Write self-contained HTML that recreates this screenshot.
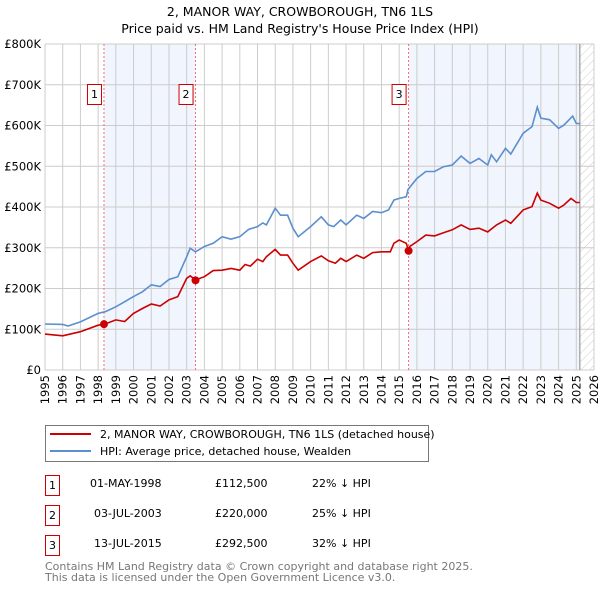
<!DOCTYPE html>
<html><head><meta charset="utf-8"><style>
body{margin:0;background:#fff;font-family:"Liberation Sans","DejaVu Sans",sans-serif;}
svg text{font-family:"DejaVu Sans","Liberation Sans",sans-serif;}
</style></head><body>
<svg id="c" width="600" height="590" xmlns="http://www.w3.org/2000/svg">
<defs><pattern id="hatch" width="6" height="6" patternUnits="userSpaceOnUse" patternTransform="rotate(45)"><line x1="0" y1="0" x2="0" y2="6" stroke="#ccc" stroke-width="1"/></pattern></defs>
<text x="300" y="16" text-anchor="middle" font-size="12.5" fill="#000">2, MANOR WAY, CROWBOROUGH, TN6 1LS</text>
<text x="300" y="33" text-anchor="middle" font-size="12.5" fill="#000">Price paid vs. HM Land Registry's House Price Index (HPI)</text>
<g id="plot"></g>
<g>
<rect x="45.5" y="425.5" width="383" height="36" fill="#fff" stroke="#777"/>
<line x1="50" y1="434" x2="91" y2="434" stroke="#cc0000" stroke-width="2"/>
<text x="100" y="438" font-size="11">2, MANOR WAY, CROWBOROUGH, TN6 1LS (detached house)</text>
<line x1="50" y1="451" x2="91" y2="451" stroke="#5b8fd0" stroke-width="2"/>
<text x="100" y="455" font-size="11">HPI: Average price, detached house, Wealden</text>
</g>
<g font-size="11">
<rect x="45.5" y="475.5" width="14" height="20" fill="#fff" stroke="#cc0000"/><text x="52.5" y="489" text-anchor="middle">1</text>
<text x="90" y="487">01-MAY-1998</text><text x="215" y="487">£112,500</text><text x="312" y="487">22% ↓ HPI</text>
<rect x="45.5" y="505.5" width="14" height="20" fill="#fff" stroke="#cc0000"/><text x="52.5" y="519" text-anchor="middle">2</text>
<text x="94" y="517">03-JUL-2003</text><text x="215" y="517">£220,000</text><text x="312" y="517">25% ↓ HPI</text>
<rect x="45.5" y="535.5" width="14" height="20" fill="#fff" stroke="#cc0000"/><text x="52.5" y="549" text-anchor="middle">3</text>
<text x="94" y="547">13-JUL-2015</text><text x="215" y="547">£292,500</text><text x="312" y="547">32% ↓ HPI</text>
</g>
<text x="45" y="570" font-size="11" fill="#777">Contains HM Land Registry data © Crown copyright and database right 2025.</text>
<text x="45" y="581" font-size="11" fill="#777">This data is licensed under the Open Government Licence v3.0.</text>
</svg>
<script>
const hpiYears=[1995,1996,1996.3,1997,1998,1998.4,1999,2000,2000.5,2001,2001.5,2002,2002.5,2003,2003.2,2003.5,2004,2004.5,2005,2005.5,2006,2006.5,2007,2007.3,2007.5,2008,2008.3,2008.7,2009,2009.3,2010,2010.6,2011,2011.3,2011.7,2012,2012.6,2013,2013.5,2014,2014.4,2014.7,2015,2015.4,2015.5,2016,2016.5,2017,2017.5,2018,2018.5,2019,2019.5,2020,2020.2,2020.5,2021,2021.3,2022,2022.5,2022.8,2023,2023.5,2024,2024.3,2024.8,2025,2025.2];
const hpiValues=[113,112,108,118,139,143,155,180,192,209,205,222,229,278,299,290,303,311,327,321,327,345,352,361,356,397,380,380,348,327,352,376,356,352,368,356,380,372,389,386,393,417,421,425,443,470,487,487,499,503,525,507,519,503,528,511,544,530,581,597,645,618,614,593,601,623,605,605];
const propYears=[1995,1996,1997,1998,1998.4,1999,1999.5,2000,2000.5,2001,2001.5,2002,2002.5,2003,2003.2,2003.5,2004,2004.5,2005,2005.5,2006,2006.3,2006.6,2007,2007.3,2007.5,2008,2008.3,2008.7,2009,2009.3,2010,2010.6,2011,2011.4,2011.7,2012,2012.6,2013,2013.5,2014,2014.5,2014.7,2015,2015.4,2015.55,2015.6,2016,2016.5,2017,2017.5,2018,2018.5,2019,2019.5,2020,2020.5,2021,2021.3,2022,2022.5,2022.8,2023,2023.5,2024,2024.3,2024.7,2025,2025.2];
const propValues=[88,84,94,110,113,123,119,139,151,162,157,172,180,225,231,221,229,244,245,249,245,259,255,272,266,278,296,282,282,262,245,266,280,268,262,274,266,282,274,288,290,290,311,319,311,290,303,315,331,329,337,344,356,345,348,339,356,368,360,393,401,434,417,409,397,405,421,411,411];
const saleYears=[1998.33,2003.5,2015.53];
const saleValues=[112.5,220,292.5];
const saleLabels=["1","2","3"];
const yTicks=[0,100,200,300,400,500,600,700,800];
const yTickLabels=["£0","£100K","£200K","£300K","£400K","£500K","£600K","£700K","£800K"];
const xTicks=[];for(let y=1995;y<=2026;y++)xTicks.push(y);

const X0=45,X1=594,Y0=370,Y1=44,yrMin=1995,yrMax=2026,vMax=800,dataEnd=2025.2;
const xs=y=>X0+(y-yrMin)/(yrMax-yrMin)*(X1-X0);
const ys=v=>Y0-v/vMax*(Y0-Y1);
const NS="http://www.w3.org/2000/svg";
const g=document.getElementById('plot');
function mk(t,a,p){const e=document.createElementNS(NS,t);for(const k in a)e.setAttribute(k,a[k]);(p||g).appendChild(e);return e;}
const bg=mk('rect',{x:X0,y:Y1,width:X1-X0,height:Y0-Y1,fill:'#fff'});


const sh1=mk('rect',{x:xs(saleYears[0]),y:Y1,width:xs(saleYears[1])-xs(saleYears[0]),height:Y0-Y1,fill:'#eef3fc',opacity:0.8});


const sh3=mk('rect',{x:xs(saleYears[2]),y:Y1,width:xs(dataEnd)-xs(saleYears[2]),height:Y0-Y1,fill:'#eef3fc',opacity:0.8});


const ht=mk('rect',{x:xs(dataEnd),y:Y1,width:X1-xs(dataEnd),height:Y0-Y1,fill:'url(#hatch)'});


xTicks.forEach((t,i)=>{
 const l=mk('line',{x1:xs(t),x2:xs(t),y1:Y1,y2:Y0,stroke:'#ccc','stroke-width':1});
 
 
 const tx=mk('text',{x:0,y:0,'font-size':11.5,'text-anchor':'end',transform:`translate(${xs(t)+4},${Y0+5}) rotate(-90)`});
 tx.textContent=t;
 
 
});
yTicks.forEach((t,i)=>{
 const l=mk('line',{x1:X0,x2:X1,y1:ys(t),y2:ys(t),stroke:'#ccc','stroke-width':1});
 
 
 const tx=mk('text',{x:X0-4,y:ys(t)+4,'font-size':11.5,'text-anchor':'end'});
 tx.textContent=yTickLabels[i];
 
 
});
const endl=mk('line',{x1:xs(dataEnd),x2:xs(dataEnd),y1:Y1,y2:Y0,stroke:'#999','stroke-width':1.2});


saleYears.forEach((s,i)=>{
 const l=mk('line',{x1:xs(s),x2:xs(s),y1:Y1,y2:Y0,stroke:'#f07070','stroke-width':1,'stroke-dasharray':'2,2'});
 
 
});
function pts(xa,va){return xa.map((x,i)=>xs(x).toFixed(1)+','+ys(va[i]).toFixed(1)).join(' ');}
const hl=mk('polyline',{points:pts(hpiYears,hpiValues),fill:'none',stroke:'#5b8fd0','stroke-width':1.6});


const pl=mk('polyline',{points:pts(propYears,propValues),fill:'none',stroke:'#cc0000','stroke-width':1.6});


saleYears.forEach((s,i)=>{
 const c=mk('circle',{cx:xs(s),cy:ys(saleValues[i]),r:4,fill:'#cc0000'});
 
 
 const bx=xs(s)-17;
 const r=mk('rect',{x:bx+0.5,y:84.5,width:14,height:20,fill:'#fff',stroke:'#cc0000'});
 
 
 const t=mk('text',{x:bx+7.5,y:98,'font-size':11,'text-anchor':'middle'});
 t.textContent=saleLabels[i];
 
 
});
</script>
</body></html>
